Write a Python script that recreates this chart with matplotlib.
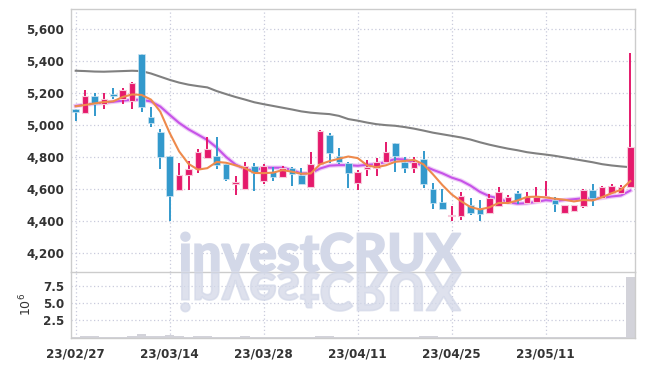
import matplotlib
matplotlib.use('Agg')
import matplotlib.pyplot as plt
from matplotlib.ticker import FuncFormatter
from matplotlib.textpath import TextPath
from matplotlib.patches import PathPatch
from matplotlib.font_manager import FontProperties
from matplotlib import transforms
import numpy as np

tick_dates = ['23/02/27', '23/03/14', '23/03/28', '23/04/11', '23/04/25', '23/05/11']

opens = [5100, 5080, 5185, 5135, 5195, 5165, 5150, 5445, 5050, 4960,
         4810, 4595, 4688, 4730, 4795, 4810, 4757, 4633, 4605, 4747,
         4655, 4707, 4680, 4733, 4691, 4618, 4757, 4941, 4809, 4764,
         4638, 4730, 4733, 4774, 4889, 4772, 4737, 4789, 4601, 4522,
         4432, 4436, 4503, 4482, 4451, 4497, 4518, 4576, 4514, 4520,
         4552, 4534, 4455, 4468, 4497, 4597, 4545, 4576, 4580, 4614]
highs = [5100, 5222, 5200, 5200, 5235, 5232, 5270, 5445, 5118, 4976,
         4810, 4768, 4775, 4855, 4926, 4925, 4760, 4686, 4770, 4768,
         4757, 4743, 4749, 4743, 4733, 4836, 4972, 4950, 4857, 4774,
         4722, 4784, 4795, 4899, 4889, 4805, 4805, 4843, 4638, 4601,
         4497, 4586, 4545, 4534, 4572, 4614, 4566, 4591, 4586, 4618,
         4650, 4555, 4505, 4505, 4600, 4633, 4624, 4634, 4628, 5450]
lows = [5030, 5075, 5060, 5100, 5165, 5132, 5100, 5082, 4990, 4726,
        4400, 4593, 4597, 4705, 4795, 4728, 4653, 4566, 4600, 4591,
        4634, 4653, 4674, 4624, 4633, 4607, 4757, 4764, 4757, 4607,
        4597, 4684, 4684, 4770, 4711, 4701, 4701, 4607, 4476, 4478,
        4400, 4409, 4441, 4403, 4445, 4492, 4509, 4509, 4509, 4514,
        4550, 4461, 4445, 4466, 4482, 4497, 4540, 4570, 4572, 4610]
closes = [5085, 5185, 5135, 5165, 5185, 5222, 5265, 5118, 5018, 4805,
          4560, 4690, 4728, 4835, 4853, 4752, 4666, 4649, 4746, 4701,
          4747, 4680, 4733, 4695, 4633, 4759, 4966, 4830, 4774, 4701,
          4711, 4741, 4770, 4832, 4811, 4737, 4774, 4633, 4518, 4480,
          4440, 4559, 4451, 4445, 4545, 4582, 4551, 4534, 4555, 4555,
          4556, 4509, 4503, 4503, 4597, 4545, 4614, 4622, 4614, 4864]

ma5 = [5120, 5128, 5138, 5146, 5151, 5178, 5194, 5191, 5162, 5086,
       4953, 4838, 4760, 4724, 4733, 4772, 4767, 4751, 4733, 4703,
       4702, 4705, 4721, 4711, 4698, 4700, 4757, 4777, 4792, 4806,
       4796, 4751, 4739, 4751, 4773, 4778, 4785, 4757, 4695, 4628,
       4569, 4526, 4490, 4475, 4488, 4516, 4515, 4531, 4553, 4555,
       4550, 4542, 4536, 4525, 4534, 4531, 4552, 4576, 4598, 4652]
ma10 = [5122, 5130, 5136, 5142, 5148, 5155, 5160, 5161, 5150, 5118,
        5066, 5016, 4976, 4943, 4909, 4862, 4803, 4756, 4728, 4718,
        4737, 4736, 4736, 4722, 4700, 4701, 4731, 4749, 4752, 4752,
        4748, 4754, 4758, 4772, 4790, 4787, 4768, 4748, 4723, 4701,
        4674, 4655, 4624, 4585, 4558, 4543, 4520, 4511, 4514, 4522,
        4533, 4528, 4534, 4539, 4545, 4541, 4547, 4556, 4562, 4593]
ma_long = [5342, 5340, 5337, 5336, 5338, 5340, 5342, 5340, 5325, 5305,
           5285, 5268, 5255, 5246, 5238, 5215, 5196, 5178, 5162, 5145,
           5133, 5122, 5111, 5100, 5088, 5080, 5075, 5071, 5060, 5040,
           5030, 5018, 5008, 5002, 4998, 4990, 4980, 4968, 4955, 4945,
           4935, 4925, 4912, 4895, 4880, 4867, 4855, 4845, 4833, 4825,
           4818, 4810, 4800, 4790, 4780, 4770, 4758, 4750, 4744, 4739]

# volume in millions of shares
volume = [0.12, 0.18, 0.15, 0.10, 0.12, 0.14, 0.20, 0.55, 0.25, 0.20,
          0.30, 0.15, 0.12, 0.18, 0.20, 0.12, 0.10, 0.08, 0.15, 0.10,
          0.12, 0.08, 0.10, 0.06, 0.08, 0.12, 0.25, 0.15, 0.10, 0.08,
          0.08, 0.06, 0.07, 0.10, 0.12, 0.08, 0.07, 0.15, 0.22, 0.12,
          0.10, 0.14, 0.08, 0.07, 0.09, 0.08, 0.06, 0.05, 0.05, 0.07,
          0.08, 0.06, 0.05, 0.05, 0.08, 0.06, 0.07, 0.06, 0.06, 8.80]

UP = '#e5196b'
DOWN = '#3399cc'
GRID = '#c9cbdc'
SPINE = '#cccccc'
LABEL = '#333333'
tick_font = dict(family='DejaVu Sans', weight='bold', stretch='condensed')

fig = plt.figure(figsize=(6.45, 3.66), dpi=100)
ax = fig.add_axes([71 / 645, 1 - 272 / 366, 564 / 645, 263 / 366])
axv = fig.add_axes([71 / 645, 1 - 337.5 / 366, 564 / 645, 65.5 / 366], sharex=ax)

x = np.arange(len(closes))
o = np.array(opens)
c = np.array(closes)
up = c >= o
colors = np.where(up, UP, DOWN)

ax.vlines(x, lows, highs, colors=colors, linewidth=1.4, zorder=3)
body_low = np.minimum(o, c)
body_h = np.maximum(np.abs(c - o), 8)
ax.bar(x[up], body_h[up], bottom=body_low[up], width=0.7, color=UP,
       edgecolor='#f7c9da', linewidth=0.8, zorder=4)
ax.bar(x[~up], body_h[~up], bottom=body_low[~up], width=0.7, color=DOWN,
       edgecolor='#cfe6f2', linewidth=0.5, zorder=4)

ax.plot(x, ma_long, color='#808080', linewidth=1.5, zorder=2)
ax.plot(x, ma10, color='#e9b8f5', linewidth=3.2, zorder=2, alpha=0.7)
ax.plot(x, ma10, color='#c653e8', linewidth=1.5, zorder=2)
ax.plot(x, ma5, color='#ee8a4c', linewidth=1.5, zorder=5)

ax.set_xlim(-0.5, 59.5)
ax.set_ylim(4084, 5728)
ax.set_yticks([4200, 4400, 4600, 4800, 5000, 5200, 5400, 5600])
ax.yaxis.set_major_formatter(FuncFormatter(lambda v, p: f'{v:,.0f}'))

axv.bar(x, volume, width=1.0, color='#d3d3da', zorder=2)
axv.set_ylim(0, 9.6)
axv.set_yticks([2.5, 5.0, 7.5])
axv.set_ylabel(r'$10^{6}$', fontsize=9, color=LABEL, labelpad=6)

tick_pos = [0, 10, 20, 30, 40, 50]
axv.set_xticks(tick_pos)
axv.set_xticklabels(tick_dates)
plt.setp(ax.get_xticklabels(), visible=False)

for a in (ax, axv):
    a.grid(True, linestyle=(0, (1, 2)), color=GRID, linewidth=0.9)
    a.set_axisbelow(True)
    a.tick_params(length=0, colors=LABEL)
    for s in a.spines.values():
        s.set_color(SPINE)
        s.set_linewidth(1)
ax.spines['bottom'].set_visible(False)
for lab in ax.get_yticklabels() + axv.get_yticklabels():
    lab.set_fontsize(9.5)
    lab.set(**tick_font)
for lab in axv.get_xticklabels():
    lab.set_fontsize(9.5)
    lab.set(**tick_font)
ax.tick_params(axis='y', pad=5)
axv.tick_params(axis='y', pad=5)
axv.tick_params(axis='x', pad=7)

# watermark with mirrored reflection
wm_prop = FontProperties(family='Lato', weight='black')
path = TextPath((0, 0), 'investCRUX', size=10, prop=wm_prop)
ext = path.get_extents()
cap = TextPath((0, 0), 'C', size=10, prop=wm_prop).get_extents().y1
x0, x1, base, cap_px = 181, 461, 271, 38
sx = (x1 - x0) / ext.width
sy = cap_px / cap
W, H = 645, 366
t_up = (transforms.Affine2D().translate(-ext.x0, 0).scale(sx / W, sy / H)
        .translate(x0 / W, 1 - base / H) + fig.transFigure)
t_dn = (transforms.Affine2D().translate(-ext.x0, 0).scale(sx / W, -sy / H)
        .translate(x0 / W, 1 - (base + 2) / H) + fig.transFigure)
fig.add_artist(PathPatch(path, facecolor='#d3d8e8', edgecolor='#d3d8e8',
                         linewidth=1.2, transform=t_up, zorder=1))
fig.add_artist(PathPatch(path, facecolor='#d3d8e8', edgecolor='#d3d8e8', linewidth=1.2,
                         alpha=0.75, transform=t_dn, zorder=1))

fig.savefig('out.png', dpi=100)
